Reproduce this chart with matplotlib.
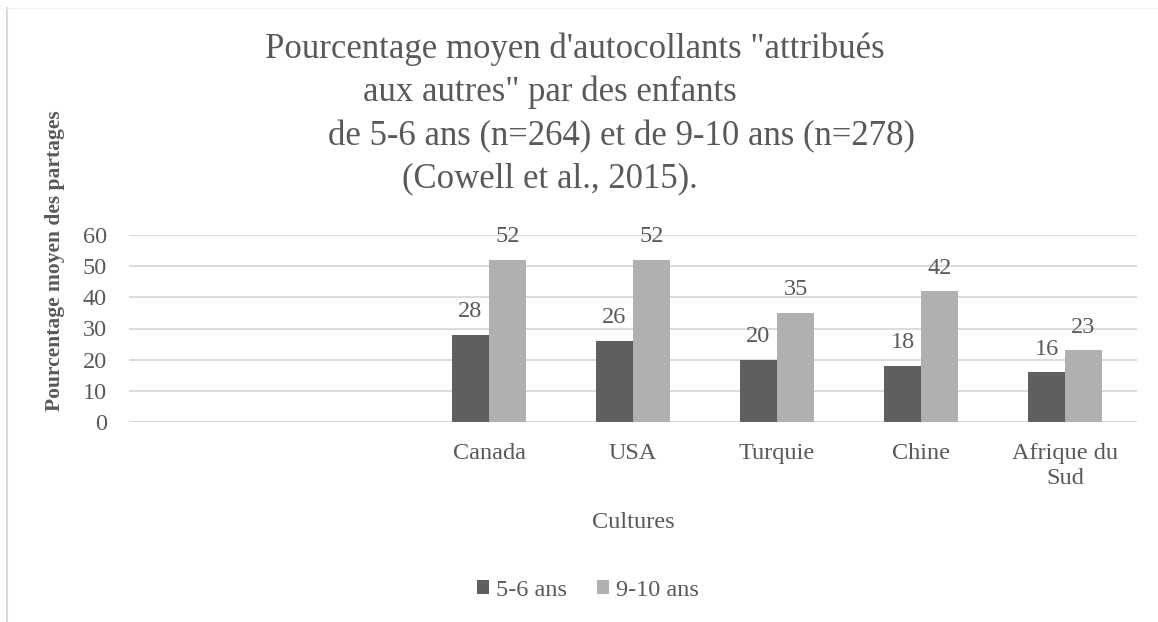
"""
Pourcentage moyen d'autocollants attribués aux autres (Cowell et al., 2015)
Diagramme en barres groupées, style Excel.
"""
import numpy as np
import matplotlib
matplotlib.use('Agg')
import matplotlib.pyplot as plt
from matplotlib.lines import Line2D

# ── Données ─────────────────────────────────────────────────────────────────
cultures   = ["", "", "Canada", "USA", "Turquie", "Chine", "Afrique du\nSud"]
ans_5_6    = [np.nan, np.nan, 28, 26, 20, 18, 16]
ans_9_10   = [np.nan, np.nan, 52, 52, 35, 42, 23]
series     = ["5-6 ans", "9-10 ans"]
y_ticks    = [0, 10, 20, 30, 40, 50, 60]
title_lines = ['Pourcentage moyen d\'autocollants "attribués',
               'aux autres" par des enfants',
               'de 5-6 ans (n=264) et de 9-10 ans (n=278)',
               '(Cowell et al., 2015).']

# ── Style ───────────────────────────────────────────────────────────────────
W, H = 1158, 622
DARK, LIGHT = "#5f5f5f", "#b0b0b0"
TXT, GRID = "#595959", "#d9d9d9"
FONT = "Liberation Serif"
FS = 17.5

plt.rcParams['font.family'] = FONT

fig = plt.figure(figsize=(W / 100, H / 100), dpi=100)
ax = fig.add_axes([129 / W, 1 - 422 / H, (1137 - 129) / W, (422 - 235) / H])

x = np.arange(len(cultures))
bw = 0.257
b1 = ax.bar(x - bw / 2, ans_5_6, bw, color=DARK, label=series[0], zorder=3)
b2 = ax.bar(x + bw / 2, ans_9_10, bw, color=LIGHT, label=series[1], zorder=3)
for b in (b1, b2):
    ax.bar_label(b, labels=["" if np.isnan(v) else f"{v:.0f}" for v in b.datavalues],
                 padding=9, fontsize=FS, color=TXT)

ax.set_xlim(-0.5, len(cultures) - 0.5)
ax.set_ylim(0, 60)
ax.set_yticks(y_ticks)
ax.set_xticks(x)
ax.set_xticklabels(cultures, fontsize=FS, color=TXT, linespacing=1.25)
ax.tick_params(axis='x', length=0, pad=15)
ax.tick_params(axis='y', length=0, pad=16, labelsize=FS, labelcolor=TXT)
ax.grid(axis='y', color=GRID, linewidth=1.3, zorder=0)
for s in ax.spines.values():
    s.set_visible(False)
ax.axhline(0, color=GRID, linewidth=1.5, zorder=2)

# titre (lignes décalées comme dans l'original)
for txt, cx, by in zip(title_lines, [575, 550, 621, 550], [58, 101, 145, 187]):
    fig.text(cx / W, 1 - by / H, txt, ha='center', va='baseline',
             fontsize=25, color=TXT)

fig.text(633 / W, 1 - 522 / H, "Cultures", ha='center', va='center',
         fontsize=FS, color=TXT)
fig.text(55 / W, 1 - 261 / H, "Pourcentage moyen des partages", rotation=90,
         ha='center', va='center', fontsize=15.5, fontweight='bold', color=TXT)

leg = fig.legend(handles=[b1, b2], loc='center', bbox_to_anchor=(588 / W, 1 - 590 / H),
                 ncol=2, frameon=False, fontsize=FS, labelcolor=TXT,
                 handlelength=0.5, handleheight=0.5, handletextpad=0.3,
                 columnspacing=1.2)

# bordure du graphique
fig.add_artist(Line2D([7.5 / W, 7.5 / W], [0, 1 - 8 / H], color=GRID, linewidth=1.5))
fig.add_artist(Line2D([7.5 / W, 1], [1 - 8 / H, 1 - 8 / H], color="#f2f2f2", linewidth=1))

fig.savefig("out.png", dpi=100)
